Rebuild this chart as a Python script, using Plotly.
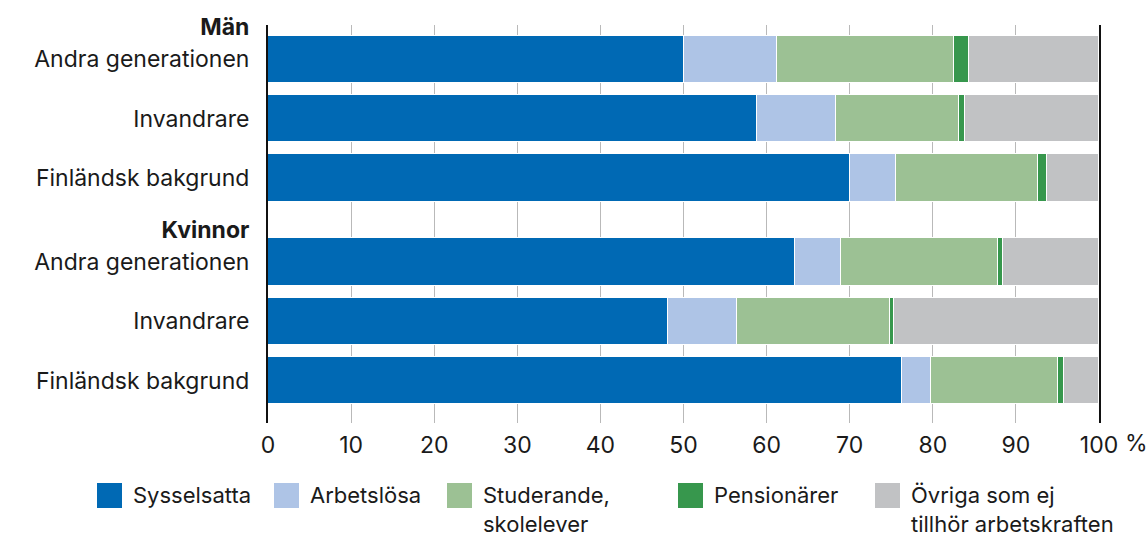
import plotly.graph_objects as go

# Labour-market status by background, shares in percent
groups = ["Män", "Kvinnor"]
subgroups = ["Andra generationen", "Invandrare", "Finländsk bakgrund"]

series_names = [
    "Sysselsatta",
    "Arbetslösa",
    "Studerande,<br>skolelever",
    "Pensionärer",
    "Övriga som ej<br>tillhör arbetskraften",
]
series_colors = ["#0069b4", "#aec4e6", "#9cc194", "#37974d", "#c1c2c4"]

# Row order: Män (Andra gen., Invandrare, Finländsk), Kvinnor (same order)
sysselsatta = [50.1, 58.8, 70.0, 63.4, 48.1, 76.3]
arbetslosa = [11.2, 9.5, 5.6, 5.6, 8.3, 3.5]
studerande = [21.2, 14.9, 17.0, 18.8, 18.5, 15.3]
pensionarer = [1.8, 0.7, 1.1, 0.7, 0.4, 0.7]
ovriga = [15.7, 16.1, 6.3, 11.5, 24.7, 4.2]

series_values = [sysselsatta, arbetslosa, studerande, pensionarer, ovriga]

x_ticks = [0, 10, 20, 30, 40, 50, 60, 70, 80, 90, 100]

# ---- row layout: each group gets a bold header row followed by its bars ----
GROUP_GAP = 0.42
HEADER_OFFSET = 0.54
bar_pos, tick_vals, tick_text = [], [], []
for gi, g in enumerate(groups):
    base = gi * (len(subgroups) + GROUP_GAP)
    tick_vals.append(base - HEADER_OFFSET)
    tick_text.append(f"<b>{g}</b>")
    for j, s in enumerate(subgroups):
        bar_pos.append(base + j)
        tick_vals.append(base + j)
        tick_text.append(s)

FONT = "Inter, Roboto, sans-serif"
TEXT = "#1a1a1a"
FS = 23
LEG_FS = 22

fig = go.Figure()
for name, color, vals in zip(series_names, series_colors, series_values):
    fig.add_trace(
        go.Bar(
            x=vals,
            y=bar_pos,
            orientation="h",
            name=name.replace("<br>", " "),
            width=0.8,
            marker=dict(color=color, line=dict(color="white", width=1.5)),
            showlegend=False,
        )
    )

# ---- plot-area geometry (pixels) ----
W, H = 1148, 540
ML, MR, MT, MB = 268, 49, 25, 117
PW, PH = W - ML - MR, H - MT - MB


def px_x(px):
    return (px - ML) / PW


def px_y(py):
    return (H - MB - py) / PH


# ---- legend drawn as coloured squares with labels underneath the axis ----
legend_left = [97, 274, 447, 678, 875]
SQ = 25
SQ_TOP = 483
TEXT_BOTTOM = 539
shapes, annotations = [], []
for name, color, lx in zip(series_names, series_colors, legend_left):
    shapes.append(
        dict(
            type="rect", xref="paper", yref="paper",
            x0=px_x(lx), x1=px_x(lx + SQ),
            y0=px_y(SQ_TOP + SQ), y1=px_y(SQ_TOP),
            fillcolor=color, line=dict(width=0), layer="above",
        )
    )
    # single-line labels share the first-line baseline of the wrapped ones
    label = name if "<br>" in name else name + "<br> "
    annotations.append(
        dict(
            xref="paper", yref="paper",
            x=px_x(lx + 34), y=px_y(TEXT_BOTTOM),
            xanchor="left", yanchor="bottom", align="left",
            text=label, showarrow=False,
            font=dict(family=FONT, size=LEG_FS, color=TEXT),
        )
    )

# percent sign trailing the last tick label
annotations.append(
    dict(
        xref="x", yref="paper", x=100, y=px_y(443),
        xanchor="left", yanchor="middle", xshift=24,
        text="%", showarrow=False,
        font=dict(family=FONT, size=FS, color=TEXT),
    )
)

fig.update_layout(
    width=W, height=H,
    barmode="stack",
    bargap=0,
    plot_bgcolor="white",
    paper_bgcolor="white",
    margin=dict(l=ML, r=MR, t=MT, b=MB, pad=0),
    font=dict(family=FONT, size=FS, color=TEXT),
    shapes=shapes,
    annotations=annotations,
    xaxis=dict(
        range=[0, 100],
        tickvals=x_ticks,
        ticktext=[str(t) for t in x_ticks],
        showgrid=True, gridcolor="#b9b9b9", gridwidth=1,
        zeroline=False, showline=False, ticks="",
        ticklabelstandoff=6,
        fixedrange=True,
    ),
    yaxis=dict(
        range=[6.135, -0.577],
        tickvals=tick_vals,
        ticktext=tick_text,
        showgrid=False, zeroline=False,
        showline=True, linecolor="#111111", linewidth=2, mirror=True,
        ticks="", ticklabelstandoff=12,
        fixedrange=True,
    ),
)

fig.write_html("out.html", config={"displayModeBar": False})
